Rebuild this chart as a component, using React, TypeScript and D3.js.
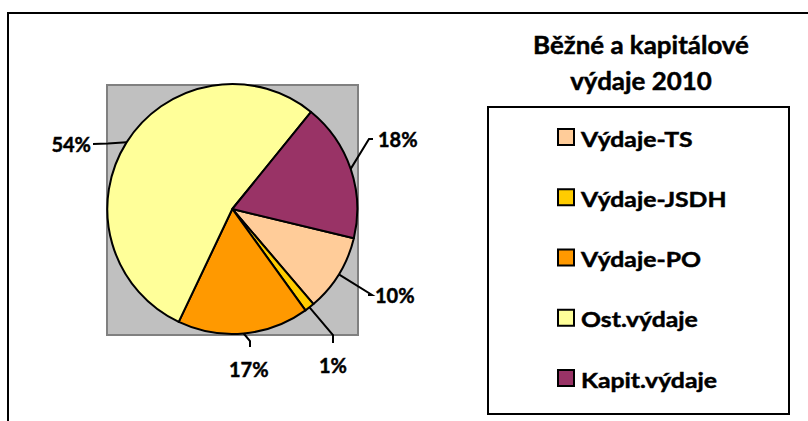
import React from "react";
import * as d3 from "d3";

const categories = ["Výdaje-TS", "Výdaje-JSDH", "Výdaje-PO", "Ost.výdaje", "Kapit.výdaje"];
const values = [10.0, 1.3, 17.0, 53.8, 17.9];
const colors = ["#FFCC99", "#FFCC00", "#FF9900", "#FFFF99", "#993366"];
const titleLines = ["Běžné a kapitálové", "výdaje 2010"];

// manually placed label layout (label anchor + elbow), as in the original chart
const labelLayout = [
  { x: 375, y: 303, anchor: "start", elbow: [[372, 295], [368, 295]] },
  { x: 319, y: 373, anchor: "start", elbow: [[333, 335], [333, 343]] },
  { x: 229, y: 377, anchor: "start", elbow: [[250, 341], [250, 347]] },
  { x: 91, y: 152, anchor: "end", elbow: [[108, 143.5], [93, 144]] },
  { x: 378, y: 147, anchor: "start", elbow: [[369, 139], [373, 139]] },
];

const FONT = "Lato, 'Open Sans', sans-serif";

export default function App() {
  const W = 808, H = 421;
  const cx = 232.3, cy = 209, r = 125;
  const startDeg = 103.5;
  const pie = d3
    .pie<number>()
    .sort(null)
    .value((d) => d)
    .startAngle((startDeg * Math.PI) / 180)
    .endAngle(((startDeg + 360) * Math.PI) / 180);
  const arcs = pie(values);
  const arc = d3.arc<d3.PieArcDatum<number>>().innerRadius(0).outerRadius(r);
  const total = d3.sum(values);
  const fmt = d3.format(".0%");

  const legendTop = 107;
  const legendStep = 60.25;
  const heavy = { stroke: "#000", strokeWidth: 0.45 };

  return (
    <svg
      width={W}
      height={H}
      style={{ position: "absolute", left: 0, top: 0, display: "block", background: "#fff" }}
      fontFamily={FONT}
    >
      {/* outer chart frame */}
      <rect x={8} y={13} width={820} height={430} fill="#fff" stroke="#000" strokeWidth={2} />

      {/* plot area */}
      <rect x={107} y={85} width={251} height={250} fill="#C0C0C0" stroke="#808080" strokeWidth={2} />

      <g transform={`translate(${cx},${cy})`}>
        {arcs.map((a, i) => (
          <path key={i} d={arc(a) || ""} fill={colors[i]} stroke="#000" strokeWidth={2} strokeLinejoin="round" />
        ))}
      </g>

      {/* leader lines + labels */}
      {arcs.map((a, i) => {
        const mid = (a.startAngle + a.endAngle) / 2;
        const ex = cx + r * Math.sin(mid);
        const ey = cy - r * Math.cos(mid);
        const L = labelLayout[i];
        const pts = [[ex, ey], ...L.elbow];
        const line = d3.line()(pts as [number, number][]);
        return (
          <g key={i}>
            <path d={line || ""} fill="none" stroke="#000" strokeWidth={2} />
            <text
              x={L.x}
              y={L.y}
              textAnchor={L.anchor as any}
              fontSize={20}
              fontWeight="bold"
              fill="#000"
              {...heavy}
            >
              {fmt(values[i] / total)}
            </text>
          </g>
        );
      })}

      {/* title */}
      {titleLines.map((t, i) => (
        <text
          key={i}
          transform={`translate(641,${54 + i * 36}) scale(1.08,1)`}
          textAnchor="middle"
          fontSize={24}
          fontWeight="bold"
          fill="#000"
          {...heavy}
        >
          {t}
        </text>
      ))}

      {/* legend */}
      <rect x={488} y={legendTop} width={301} height={307} fill="#fff" stroke="#000" strokeWidth={2} />
      {categories.map((c, i) => {
        const y = 129 + i * legendStep;
        return (
          <g key={c}>
            <rect x={558} y={y} width={16} height={16} fill={colors[i]} stroke="#000" strokeWidth={2} />
            <text
              transform={`translate(581,${y + 17.5}) scale(1.18,1)`}
              fontSize={21}
              fontWeight="bold"
              fill="#000"
              {...heavy}
            >
              {c}
            </text>
          </g>
        );
      })}
    </svg>
  );
}
